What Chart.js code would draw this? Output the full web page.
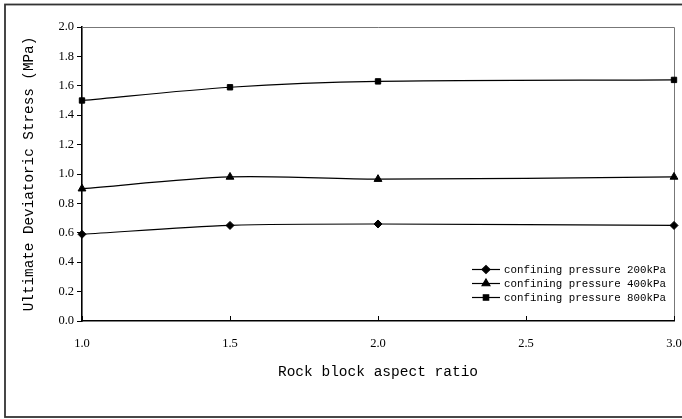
<!DOCTYPE html>
<html>
<head>
<meta charset="utf-8">
<script src="https://cdn.jsdelivr.net/npm/chart.js@4/dist/chart.umd.min.js"></script>
<style>
  html, body { margin: 0; padding: 0; background: #fff; }
  #wrap { width: 682px; height: 419px; position: relative; }
</style>
</head>
<body>
<div id="wrap"><canvas id="chart"></canvas></div>
<script>
// datos
const aspectRatio = [1.0, 1.5, 2.0, 3.0];
const stress200 = [0.59, 0.65, 0.66, 0.65];
const stress400 = [0.90, 0.98, 0.965, 0.98];
const stress800 = [1.50, 1.59, 1.63, 1.64];
const seriesLabels = ['confining pressure 200kPa', 'confining pressure 400kPa', 'confining pressure 800kPa'];
const markers = ['rectRot', 'triangle', 'rect'];
const markerSize = [4, 4.5, 3.8];

const monoFont = "'Liberation Mono', 'DejaVu Sans Mono', monospace";
const serifFont = "'Liberation Serif', 'DejaVu Serif', serif";

function toPoints(vals) {
    return aspectRatio.map((x, i) => ({ x: x, y: vals[i] }));
}

const allSeries = [stress200, stress400, stress800];
const datasets = allSeries.map(function(vals, i) {
    return {
        label: seriesLabels[i],
        data: toPoints(vals),
        borderColor: '#000',
        backgroundColor: '#000',
        borderWidth: 1.2,
        pointStyle: markers[i],
        pointRadius: markerSize[i],
        pointBorderWidth: 1,
        tension: 0.3,
        clip: false
    };
});

// marco exterior, marco del area y ticks internos del eje x
const framePlugin = {
    id: 'frame',
    beforeDatasetsDraw(chart) {
        const ctx = chart.ctx;
        const a = chart.chartArea;
        ctx.save();
        ctx.strokeStyle = '#333';
        ctx.lineWidth = 1.8;
        ctx.strokeRect(5, 4.5, 700, 412.5);
        // lados superior y derecho en gris
        ctx.strokeStyle = '#777';
        ctx.lineWidth = 1;
        ctx.beginPath();
        ctx.moveTo(a.left, a.top + 0.5);
        ctx.lineTo(a.right + 0.5, a.top + 0.5);
        ctx.lineTo(a.right + 0.5, a.bottom);
        ctx.stroke();
        // ticks del eje x hacia adentro
        ctx.strokeStyle = '#000';
        const xs = chart.scales.x;
        xs.ticks.forEach(function(t) {
            const px = Math.round(xs.getPixelForValue(t.value)) + 0.5;
            ctx.beginPath();
            ctx.moveTo(px, a.bottom);
            ctx.lineTo(px, a.bottom - 5);
            ctx.stroke();
        });
        ctx.restore();
    }
};

// leyenda dentro del area de grafico
const legendPlugin = {
    id: 'innerLegend',
    afterDatasetsDraw(chart) {
        const ctx = chart.ctx;
        ctx.save();
        const x0 = 472, x1 = 500, y0 = 269.5, step = 14;
        ctx.font = '10.8px ' + monoFont;
        ctx.textBaseline = 'middle';
        ctx.fillStyle = '#000';
        chart.data.datasets.forEach(function(ds, i) {
            const y = y0 + i * step;
            ctx.strokeStyle = '#000';
            ctx.lineWidth = 1.2;
            ctx.beginPath();
            ctx.moveTo(x0, y);
            ctx.lineTo(x1, y);
            ctx.stroke();
            Chart.helpers.drawPoint(ctx, {
                pointStyle: ds.pointStyle,
                radius: ds.pointRadius,
                borderWidth: 1
            }, (x0 + x1) / 2, y);
            ctx.fillText(ds.label, x1 + 4, y + 0.5);
        });
        ctx.restore();
    }
};

const ctx = document.getElementById('chart').getContext('2d');
new Chart(ctx, {
    type: 'line',
    data: { datasets: datasets },
    options: {
        responsive: true,
        maintainAspectRatio: false,
        animation: false,
        layout: { padding: { left: 21, right: 8, top: 27, bottom: 0 } },
        plugins: {
            legend: { display: false },
            tooltip: { enabled: false }
        },
        scales: {
            x: {
                type: 'linear',
                min: 1.0,
                max: 3.0,
                afterFit: function(scale) {
                    scale.height = 98;
                    scale.paddingLeft = 0;
                    scale.paddingRight = 0;
                },
                ticks: {
                    stepSize: 0.5,
                    padding: 15,
                    color: '#000',
                    font: { family: serifFont, size: 12.5 },
                    callback: v => Number(v).toFixed(1)
                },
                grid: { display: true, drawOnChartArea: false, drawTicks: false, color: '#000' },
                border: { display: true, color: '#000', width: 1.6 },
                title: {
                    display: true,
                    text: 'Rock block aspect ratio',
                    color: '#000',
                    font: { family: monoFont, size: 14.5 },
                    padding: { top: 0, bottom: 38 }
                }
            },
            y: {
                min: 0,
                max: 2.0,
                afterFit: function(scale) {
                    scale.width = 61;
                    scale.paddingTop = 0;
                    scale.paddingBottom = 0;
                },
                ticks: {
                    stepSize: 0.2,
                    padding: 3,
                    color: '#000',
                    font: { family: serifFont, size: 12.5 },
                    callback: v => Number(v).toFixed(1)
                },
                grid: { display: true, drawOnChartArea: false, drawTicks: true, tickLength: 5, color: '#000' },
                border: { display: true, color: '#000', width: 1.6 },
                title: {
                    display: true,
                    text: 'Ultimate Deviatoric Stress (MPa)',
                    color: '#000',
                    font: { family: monoFont, size: 14.3 },
                    padding: { top: 0, bottom: 0 }
                }
            }
        }
    },
    plugins: [framePlugin, legendPlugin]
});
</script>
</body>
</html>
